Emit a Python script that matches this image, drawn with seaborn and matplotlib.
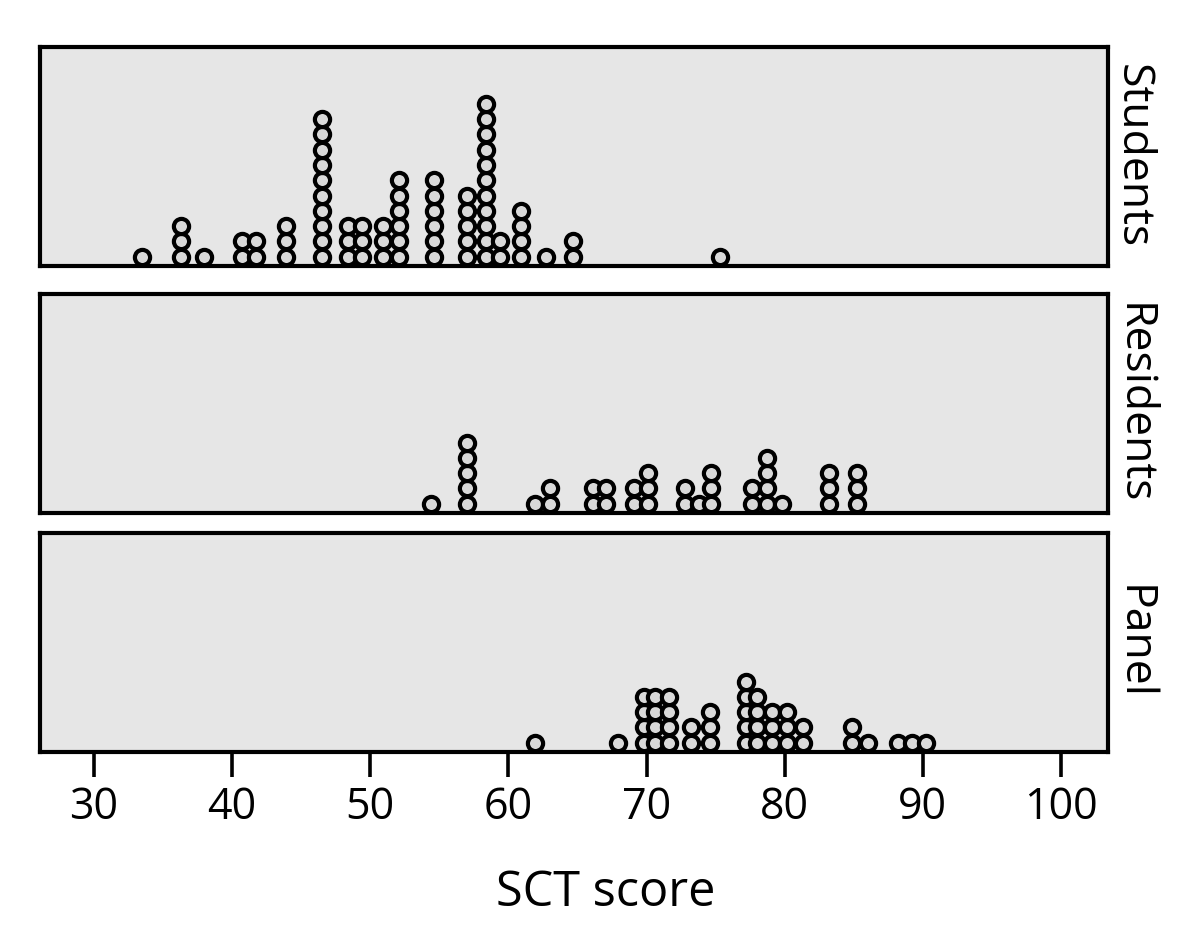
import numpy as np
import pandas as pd
import seaborn as sns
import matplotlib.pyplot as plt

# scores (dot-plot bins) and how many people fall in each
groups = ["Students", "Residents", "Panel"]

students_scores = [33.5, 36.3, 38.0, 40.7, 41.7, 43.9, 46.5, 48.4, 49.4, 50.9,
                   52.1, 54.6, 57.0, 58.4, 59.4, 60.9, 62.7, 64.7, 75.3]
students_counts = [1, 3, 1, 2, 2, 3, 10, 3, 3, 3, 6, 6, 5, 11, 2, 4, 1, 2, 1]

residents_scores = [54.4, 57.0, 61.9, 63.0, 66.1, 67.1, 69.1, 70.1, 72.8, 73.8,
                    74.7, 77.6, 78.7, 79.8, 83.2, 85.2]
residents_counts = [1, 5, 1, 2, 2, 2, 2, 3, 2, 1, 3, 2, 4, 1, 3, 3]

panel_scores = [61.9, 67.9, 69.8, 70.6, 71.6, 73.2, 74.6, 77.2, 78.0, 79.1,
                80.2, 81.3, 84.9, 86.0, 88.2, 89.2, 90.2]
panel_counts = [1, 1, 4, 4, 4, 2, 3, 5, 4, 3, 3, 2, 2, 1, 1, 1, 1]

xticks = [30, 40, 50, 60, 70, 80, 90, 100]

# expand to one row per person and stack dots within each bin
frames = []
for g, sc, ct in [("Students", students_scores, students_counts),
                  ("Residents", residents_scores, residents_counts),
                  ("Panel", panel_scores, panel_counts)]:
    d = pd.DataFrame({"score": np.repeat(sc, ct), "group": g})
    d["stack"] = d.groupby("score").cumcount()
    frames.append(d)
df = pd.concat(frames, ignore_index=True)

sns.set_style("white")
plt.rcParams["font.family"] = ["Open Sans", "DejaVu Sans"]
plt.rcParams["text.color"] = "black"
plt.rcParams["xtick.color"] = "black"

W, H = 1200, 942
fig = plt.figure(figsize=(12, 9.42), dpi=100)

# panel boxes in pixels: (top, bottom)
boxes = [(47, 266), (294, 513), (533, 752)]
left, right = 40, 1108

axes = []
for g, (t, b) in zip(groups, boxes):
    ax = fig.add_axes([left / W, 1 - b / H, (right - left) / W, (b - t) / H])
    sns.scatterplot(data=df[df.group == g], x="score", y="stack", ax=ax,
                    s=120, color="#d9d9d9", edgecolor="black", linewidth=3.0,
                    legend=False, zorder=3, clip_on=False)
    ax.collections[0].set_linewidths(3.0)
    ax.set_facecolor("#e6e6e6")
    ax.set_xlim(26.1, 103.4)
    ax.set_ylim(-0.6, 13.7)
    ax.set_yticks([])
    ax.set_ylabel("")
    ax.set_xlabel("")
    for sp in ax.spines.values():
        sp.set_linewidth(3.0)
        sp.set_color("black")
    ax.text(1.002, 0.5, g, transform=ax.transAxes, rotation=270,
            ha="left", va="center", fontsize=32)
    axes.append(ax)

for ax in axes[:-1]:
    ax.set_xticks([])

axb = axes[-1]
axb.set_xticks(xticks)
axb.set_xticklabels([str(v) for v in xticks])
axb.tick_params(axis="x", direction="out", length=18, width=2.6, labelsize=31,
                pad=6, bottom=True, color="black", labelcolor="black")

fig.text(606 / W, 1 - 893 / H, "SCT score", ha="center", va="center", fontsize=35)

fig.savefig("out.png", dpi=100, facecolor="white")
